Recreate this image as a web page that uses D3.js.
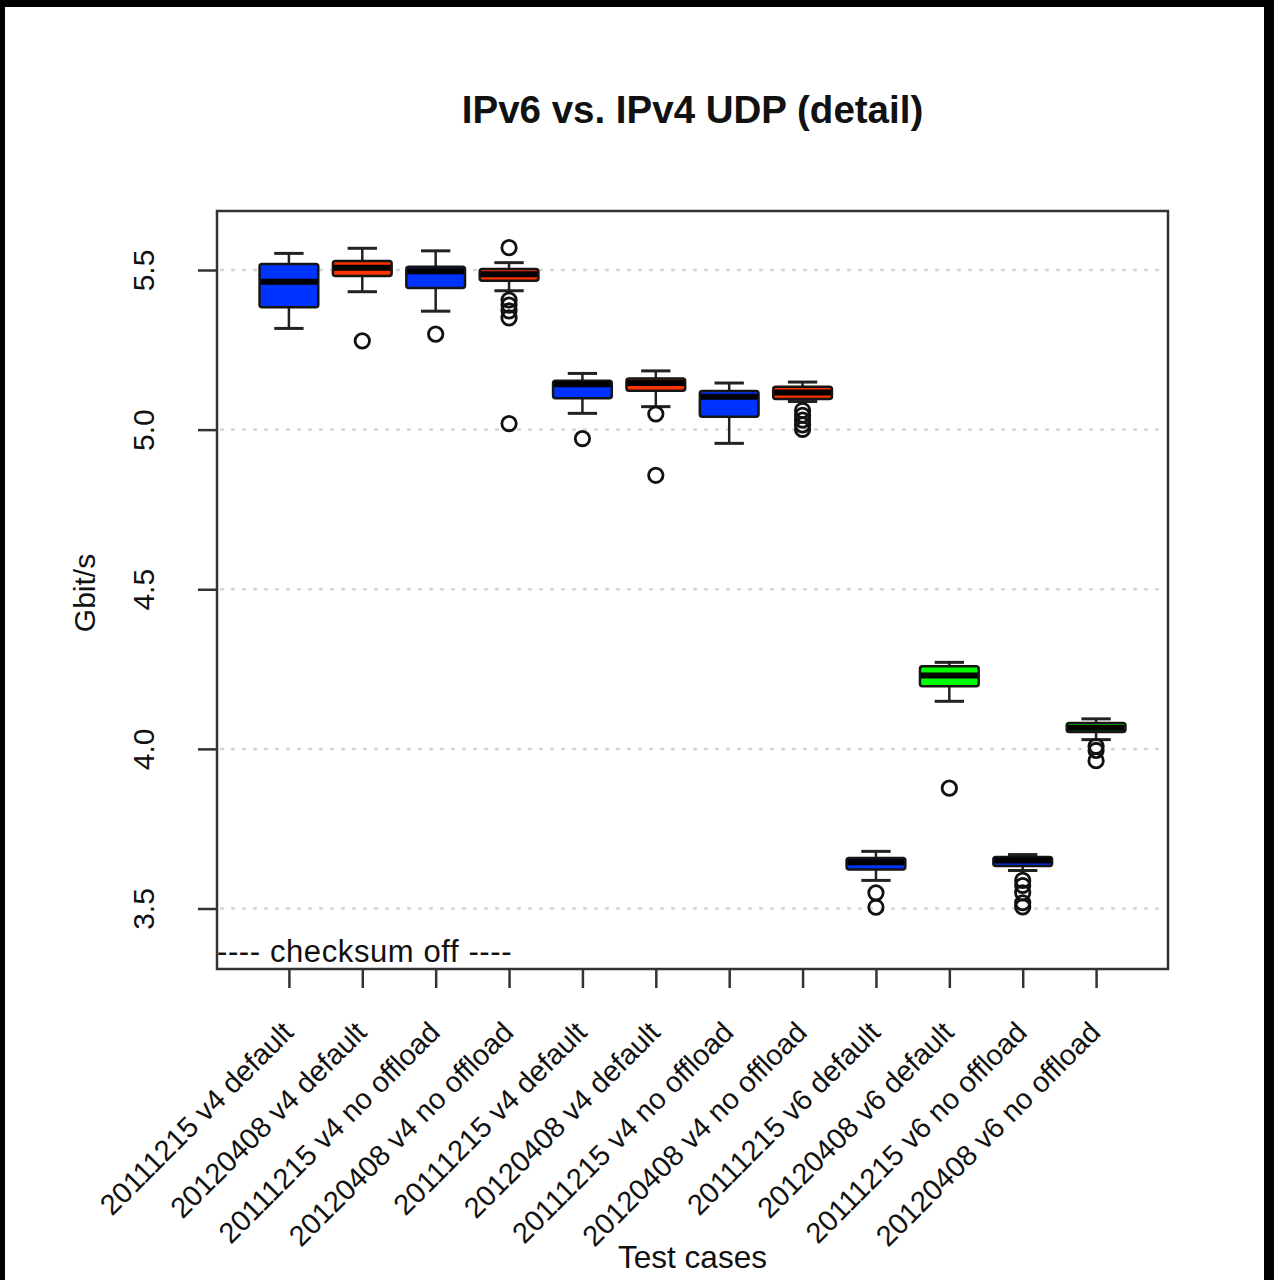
<!DOCTYPE html>
<html>
<head>
<meta charset="utf-8">
<script src="https://cdn.jsdelivr.net/npm/d3@7"></script>
<style>
  html, body { margin: 0; padding: 0; background: #fff; }
  svg { display: block; }
  text { font-family: "Liberation Sans", Arial, Helvetica, sans-serif; fill: #111; }
</style>
</head>
<body>
<svg id="chart" width="1274" height="1280"></svg>
<script>
// Test cases, in plotting order
const categories = [
  "20111215 v4 default", "20120408 v4 default", "20111215 v4 no offload", "20120408 v4 no offload",
  "20111215 v4 default", "20120408 v4 default", "20111215 v4 no offload", "20120408 v4 no offload",
  "20111215 v6 default", "20120408 v6 default", "20111215 v6 no offload", "20120408 v6 no offload"
];

// Five-number summaries per test case (Gbit/s)
const whiskerLow  = [5.317, 5.432, 5.371, 5.435, 5.051, 5.072, 4.957, 5.088, 3.588, 4.149, 3.619, 4.029];
const lowerHinge  = [5.383, 5.481, 5.444, 5.466, 5.098, 5.122, 5.040, 5.096, 3.622, 4.196, 3.633, 4.053];
const medians     = [5.463, 5.507, 5.496, 5.487, 5.142, 5.146, 5.103, 5.116, 3.645, 4.230, 3.650, 4.066];
const upperHinge  = [5.519, 5.528, 5.510, 5.503, 5.153, 5.160, 5.121, 5.134, 3.658, 4.259, 3.661, 4.081];
const whiskerHigh = [5.552, 5.568, 5.560, 5.523, 5.176, 5.184, 5.146, 5.149, 3.679, 4.271, 3.669, 4.094];

// Points beyond the whiskers
const outliers = [
  [],
  [5.278],
  [5.299],
  [5.570, 5.406, 5.390, 5.372, 5.350, 5.019],
  [4.972],
  [5.049, 4.857],
  [],
  [5.060, 5.045, 5.030, 5.015, 5.001],
  [3.549, 3.504],
  [3.877],
  [3.588, 3.572, 3.549, 3.518, 3.505],
  [4.008, 3.995, 3.963]
];

const boxColors = [
  "#0033ff", "#ff3300", "#0033ff", "#ff3300",
  "#0033ff", "#ff3300", "#0033ff", "#ff3300",
  "#0033ff", "#00ff00", "#0033ff", "#00ff00"
];

const yTicks = [3.5, 4.0, 4.5, 5.0, 5.5];
const yTickLabels = ["3.5", "4.0", "4.5", "5.0", "5.5"];

const chartTitle = "IPv6 vs. IPv4 UDP (detail)";
const xTitle = "Test cases";
const yTitle = "Gbit/s";
const noteText = "---- checksum off ----";

// ---- layout ----
const plot = { left: 217, right: 1168, top: 211, bottom: 969 };
const svg = d3.select("#chart");

// outer dark frame
svg.append("rect").attr("x", 0).attr("y", 0).attr("width", 1274).attr("height", 1280).attr("fill", "#fff");
svg.append("rect").attr("x", 0).attr("y", 0).attr("width", 1274).attr("height", 7).attr("fill", "#000");
svg.append("rect").attr("x", 0).attr("y", 0).attr("width", 5).attr("height", 1280).attr("fill", "#000");
svg.append("rect").attr("x", 1264).attr("y", 0).attr("width", 10).attr("height", 1280).attr("fill", "#000");

const x = d3.scaleLinear().domain([0.02, 12.98]).range([plot.left, plot.right]);
const y = d3.scaleLinear().domain([3.3105, 5.6848]).range([plot.bottom, plot.top]);
const unit = x(2) - x(1);
const boxW = 0.8 * unit;
const capW = 0.4 * unit;

// horizontal dotted guides
svg.append("g").selectAll("line").data(yTicks).join("line")
  .attr("x1", plot.left + 3).attr("x2", plot.right - 3)
  .attr("y1", d => y(d)).attr("y2", d => y(d))
  .attr("stroke", "#d6d6d6").attr("stroke-width", 2.5)
  .attr("stroke-dasharray", "4,7");

// boxes
const idx = d3.range(categories.length);
const boxes = svg.append("g").selectAll("g").data(idx).join("g");

// whiskers
boxes.append("line")
  .attr("x1", i => x(i + 1)).attr("x2", i => x(i + 1))
  .attr("y1", i => y(whiskerHigh[i])).attr("y2", i => y(upperHinge[i]))
  .attr("stroke", "#222").attr("stroke-width", 2.5);
boxes.append("line")
  .attr("x1", i => x(i + 1)).attr("x2", i => x(i + 1))
  .attr("y1", i => y(lowerHinge[i])).attr("y2", i => y(whiskerLow[i]))
  .attr("stroke", "#222").attr("stroke-width", 2.5);
// staples
boxes.append("line")
  .attr("x1", i => x(i + 1) - capW / 2).attr("x2", i => x(i + 1) + capW / 2)
  .attr("y1", i => y(whiskerHigh[i])).attr("y2", i => y(whiskerHigh[i]))
  .attr("stroke", "#222").attr("stroke-width", 3);
boxes.append("line")
  .attr("x1", i => x(i + 1) - capW / 2).attr("x2", i => x(i + 1) + capW / 2)
  .attr("y1", i => y(whiskerLow[i])).attr("y2", i => y(whiskerLow[i]))
  .attr("stroke", "#222").attr("stroke-width", 3);
// box body
boxes.append("rect")
  .attr("x", i => x(i + 1) - boxW / 2).attr("width", boxW)
  .attr("y", i => y(upperHinge[i]))
  .attr("height", i => y(lowerHinge[i]) - y(upperHinge[i]))
  .attr("rx", 2.5)
  .attr("fill", i => boxColors[i])
  .attr("stroke", "#151515").attr("stroke-width", 2.5);
// median
boxes.append("line")
  .attr("x1", i => x(i + 1) - boxW / 2 + 1).attr("x2", i => x(i + 1) + boxW / 2 - 1)
  .attr("y1", i => y(medians[i])).attr("y2", i => y(medians[i]))
  .attr("stroke", "#000").attr("stroke-width", 6);
// outliers
boxes.selectAll("circle").data(i => outliers[i].map(v => ({ i, v }))).join("circle")
  .attr("cx", d => x(d.i + 1)).attr("cy", d => y(d.v)).attr("r", 7.2)
  .attr("fill", "none").attr("stroke", "#111").attr("stroke-width", 2.8);

// plot frame
svg.append("rect")
  .attr("x", plot.left).attr("y", plot.top)
  .attr("width", plot.right - plot.left).attr("height", plot.bottom - plot.top)
  .attr("fill", "none").attr("stroke", "#333").attr("stroke-width", 2.5);

// y axis
const yAxis = svg.append("g")
  .attr("transform", `translate(${plot.left},0)`)
  .call(d3.axisLeft(y).tickValues(yTicks).tickSize(19).tickFormat((d, k) => yTickLabels[k]));
yAxis.select(".domain").remove();
yAxis.selectAll(".tick line").attr("stroke", "#333").attr("stroke-width", 2.5);
yAxis.selectAll(".tick text")
  .attr("x", null).attr("dy", null)
  .attr("transform", "translate(-63,0) rotate(-90)")
  .attr("text-anchor", "middle")
  .style("font-size", "30px").attr("fill", "#111");

// x axis
const xAxis = svg.append("g")
  .attr("transform", `translate(0,${plot.bottom})`)
  .call(d3.axisBottom(x).tickValues(d3.range(1, categories.length + 1)).tickSize(19).tickFormat(""));
xAxis.select(".domain").remove();
xAxis.selectAll(".tick line").attr("stroke", "#333").attr("stroke-width", 2.5);

// slanted category labels
svg.append("g").selectAll("text").data(categories).join("text")
  .attr("transform", (d, i) => `translate(${x(i + 1) + 6},1034) rotate(-45)`)
  .attr("text-anchor", "end")
  .style("font-size", "29px")
  .text(d => d);

// note inside plot
svg.append("text")
  .attr("x", plot.left).attr("y", 962)
  .style("font-size", "31px")
  .style("letter-spacing", "0.6px")
  .text(noteText);

// titles
svg.append("text")
  .attr("x", (plot.left + plot.right) / 2).attr("y", 123)
  .attr("text-anchor", "middle")
  .style("font-size", "38.5px").style("font-weight", "bold")
  .text(chartTitle);
svg.append("text")
  .attr("x", (plot.left + plot.right) / 2).attr("y", 1268)
  .attr("text-anchor", "middle")
  .style("font-size", "31.5px")
  .text(xTitle);
svg.append("text")
  .attr("transform", "translate(95,593) rotate(-90)")
  .attr("text-anchor", "middle")
  .style("font-size", "30px")
  .text(yTitle);
</script>
</body>
</html>
